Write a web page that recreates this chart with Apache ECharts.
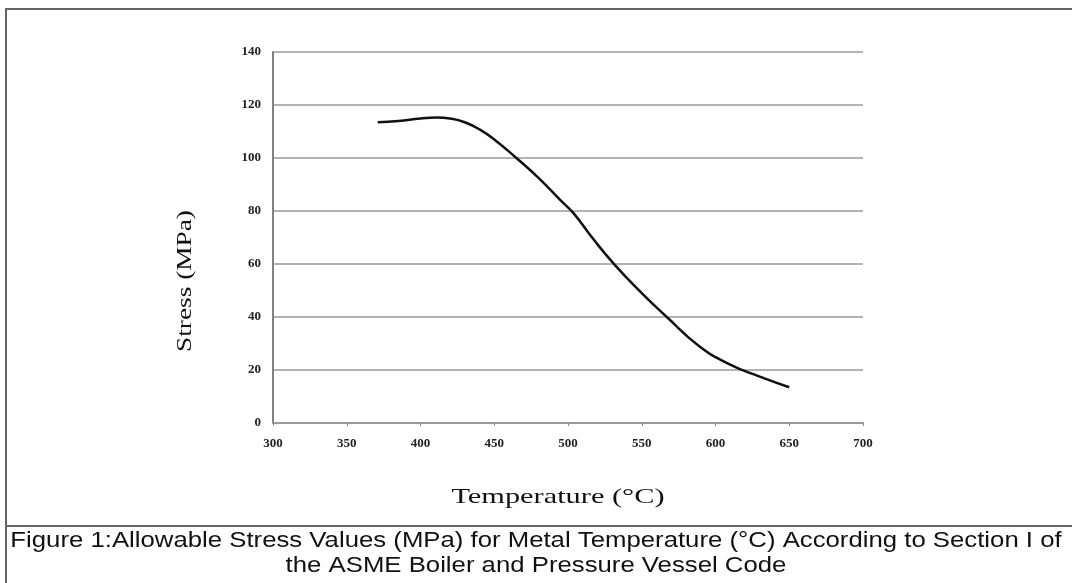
<!DOCTYPE html>
<html>
<head>
<meta charset="utf-8">
<script src="https://cdn.jsdelivr.net/npm/echarts@6/dist/echarts.min.js"></script>
<style>
html,body{margin:0;padding:0;background:#fff;}
#chart{width:1072px;height:583px;}
</style>
</head>
<body>
<div id="chart"></div>
<script>
// Data
const temperatures = [371, 385, 400, 411, 420, 430, 440, 450, 465, 480, 495, 504, 517, 532, 550, 567, 589, 610, 630, 650];
const stressValues = [113.5, 114, 114.9, 115.3, 114.9, 113.5, 110.8, 107, 100, 92.5, 84, 79, 69.5, 59.5, 49, 40, 29, 22, 17.5, 13.5];
const xTicks = [300, 350, 400, 450, 500, 550, 600, 650, 700];
const yTicks = [0, 20, 40, 60, 80, 100, 120, 140];
const xTitle = 'Temperature (°C)';
const yTitle = 'Stress (MPa)';
const captionLines = [
  'Figure 1:Allowable Stress Values (MPa) for Metal Temperature (°C) According to Section I of',
  'the ASME Boiler and Pressure Vessel Code'
];

const points = temperatures.map((t, i) => [t, stressValues[i]]);
const chart = echarts.init(document.getElementById('chart'), null, {renderer: 'canvas'});
const serif = '"Liberation Serif", "DejaVu Serif", serif';
const sans = '"Liberation Sans", Arial, sans-serif';

chart.setOption({
  animation: false,
  backgroundColor: '#ffffff',
  grid: {left: 273, right: 209, top: 52, bottom: 160, containLabel: false},
  xAxis: {
    type: 'value',
    min: xTicks[0], max: xTicks[xTicks.length - 1], interval: 50,
    axisLine: {show: true, lineStyle: {color: '#9a9a9a', width: 2}},
    axisTick: {show: true, length: 3, inside: false, lineStyle: {color: '#8a8a8a', width: 1}},
    axisLabel: {color: '#222', fontFamily: serif, fontSize: 13, fontWeight: 'bold', margin: 14},
    splitLine: {show: false}
  },
  yAxis: {
    type: 'value',
    min: yTicks[0], max: yTicks[yTicks.length - 1], interval: 20,
    axisLine: {show: true, lineStyle: {color: '#808080', width: 2}},
    axisTick: {show: false},
    axisLabel: {color: '#222', fontFamily: serif, fontSize: 13, fontWeight: 'bold', margin: 12},
    splitLine: {show: true, lineStyle: {color: '#9a9a9a', width: 1.5}}
  },
  series: [{
    type: 'line',
    data: points,
    smooth: 0.5,
    showSymbol: false,
    lineStyle: {color: '#111', width: 2.5}
  }],
  graphic: [
    {type: 'polyline', shape: {points: [[6, 583], [6, 9], [1072, 9]]}, style: {stroke: '#666', lineWidth: 2, fill: null}},
    {type: 'line', shape: {x1: 6, y1: 526, x2: 1072, y2: 526}, style: {stroke: '#666', lineWidth: 2}},
    {type: 'text', x: 185, y: 281, rotation: Math.PI / 2, scaleX: 1.3, style: {text: yTitle, font: '21px ' + serif, fill: '#111', align: 'center', verticalAlign: 'middle'}},
    {type: 'text', x: 558, y: 497, scaleX: 1.38, style: {text: xTitle, font: '22px ' + serif, fill: '#111', align: 'center', verticalAlign: 'middle'}},
    {type: 'text', x: 536, y: 541, scaleX: 1.17, style: {text: captionLines[0], font: '22px ' + sans, fill: '#111', align: 'center', verticalAlign: 'middle'}},
    {type: 'text', x: 536, y: 566, scaleX: 1.17, style: {text: captionLines[1], font: '22px ' + sans, fill: '#111', align: 'center', verticalAlign: 'middle'}}
  ]
});
</script>
</body>
</html>
